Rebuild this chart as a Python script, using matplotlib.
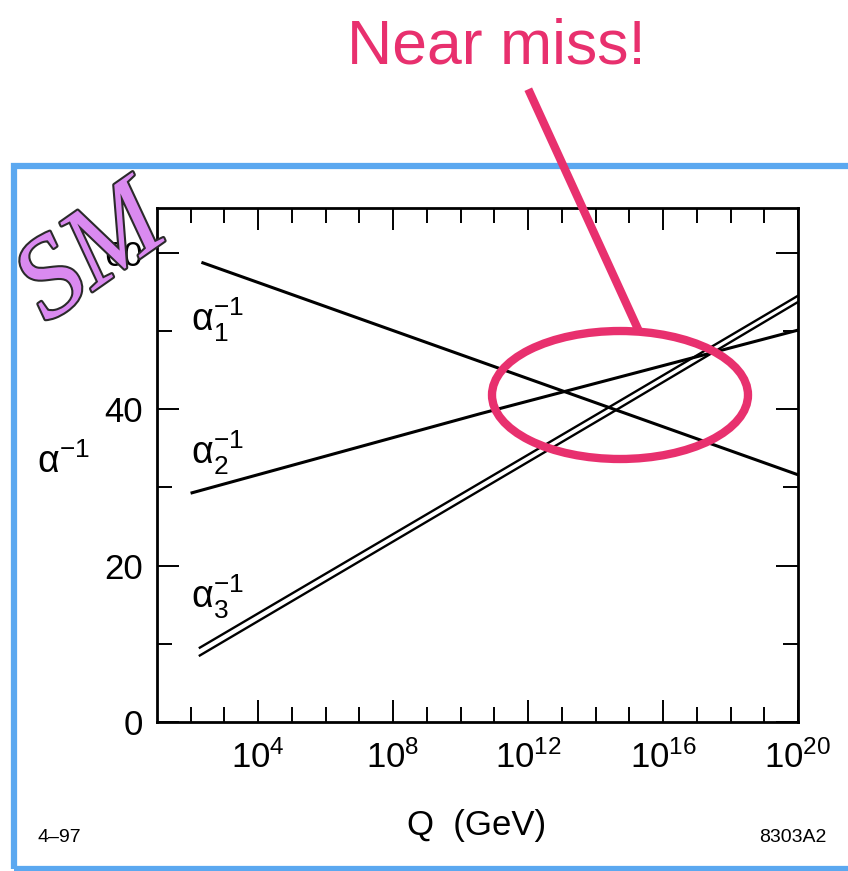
import matplotlib
matplotlib.use('Agg')
import matplotlib.pyplot as plt
import matplotlib.patheffects as pe
from matplotlib.patches import Ellipse, Rectangle
from matplotlib.lines import Line2D
from matplotlib.ticker import FixedLocator, NullFormatter
import numpy as np

plt.rcParams['font.family'] = ['Liberation Sans', 'DejaVu Sans']
plt.rcParams['mathtext.default'] = 'regular'

# log10(Q / GeV) and inverse couplings
logq_a1 = np.array([2.36, 4.64, 20.0])
inv_a1 = np.array([58.7, 55.2, 31.6])
logq_a2 = np.array([2.04, 10.57, 20.0])
inv_a2 = np.array([29.3, 39.4, 50.1])
logq_a3 = np.array([2.27, 14.42, 20.0])
inv_a3_hi = np.array([9.5, 40.3, 54.5])
inv_a3_lo = np.array([8.5, 39.4, 53.7])

major_logq = [4, 8, 12, 16, 20]
minor_logq = [2, 3, 5, 6, 7, 9, 10, 11, 13, 14, 15, 17, 18, 19]
y_major = [0, 20, 40, 60]
y_minor = [10, 30, 50]

pink = '#E8306E'

fig = plt.figure(figsize=(8.48, 8.71), dpi=100)
ax = fig.add_axes([0.1851, 0.1711, 0.756, 0.590])

ax.plot(10.0 ** logq_a1, inv_a1, color='black', lw=2.2)
ax.plot(10.0 ** logq_a2, inv_a2, color='black', lw=2.2)
ax.plot(10.0 ** logq_a3, inv_a3_hi, color='black', lw=1.7)
ax.plot(10.0 ** logq_a3, inv_a3_lo, color='black', lw=1.7)

ax.set_xscale('log')
ax.set_xlim(1e1, 1e20)
ax.set_ylim(0, 65.7)

ax.xaxis.set_major_locator(FixedLocator([10.0 ** k for k in major_logq]))
ax.xaxis.set_minor_locator(FixedLocator([10.0 ** k for k in minor_logq]))
ax.xaxis.set_minor_formatter(NullFormatter())
ax.set_xticklabels(['$10^{%d}$' % k for k in major_logq])
ax.set_yticks(y_major)
ax.set_yticks(y_minor, minor=True)

ax.tick_params(which='both', direction='in', top=True, right=True, width=1.4, labelsize=25)
ax.tick_params(which='major', length=16)
ax.tick_params(which='minor', length=11)
ax.tick_params(axis='x', pad=13)
ax.tick_params(axis='y', pad=10)
for sp in ax.spines.values():
    sp.set_linewidth(2)

# curve labels
ax.text(10 ** 2.0, 51.4, r'$α_1^{-1}$', fontsize=27, va='center', ha='left')
ax.text(10 ** 2.0, 34.4, r'$α_2^{-1}$', fontsize=27, va='center', ha='left')
ax.text(10 ** 2.0, 16.0, r'$α_3^{-1}$', fontsize=27, va='center', ha='left')

fig.text(37 / 848, 1 - 462 / 871, r'$α^{-1}$', fontsize=27, va='center', ha='left')
fig.text(477 / 848, 1 - 825 / 871, 'Q  (GeV)', fontsize=25, va='center', ha='center')
fig.text(38 / 848, 1 - 837 / 871, '4–97', fontsize=14, va='center', ha='left')
fig.text(827 / 848, 1 - 837 / 871, '8303A2', fontsize=14, va='center', ha='right')

# blue slide frame
fig.add_artist(Rectangle((14 / 848, 1 - 869 / 871), 900 / 848, (869 - 166) / 871,
                         transform=fig.transFigure, fill=False, ec='#5BA8F0', lw=4.5,
                         clip_on=False))

# "SM" logo
fig.text(93 / 848, 1 - 257 / 871, 'SM', fontsize=82, family='Liberation Serif',
         style='italic', color='#DA8AF0', rotation=35,
         ha='center', va='center',
         path_effects=[pe.Stroke(linewidth=3, foreground='#2a2a2a'), pe.Normal()])

# annotation
fig.text(496 / 848, 1 - 63 / 871, 'Near miss!', fontsize=45, color=pink,
         ha='center', va='baseline')
fig.add_artist(Line2D([530 / 848, 637 / 848], [1 - 93 / 871, 1 - 327 / 871],
                      transform=fig.transFigure, color=pink, lw=6))
fig.add_artist(Ellipse((620 / 848, 1 - 395 / 871), 256 / 848, 128 / 871,
                       transform=fig.transFigure, fill=False, ec=pink, lw=6))

fig.savefig('out.png', dpi=100)
